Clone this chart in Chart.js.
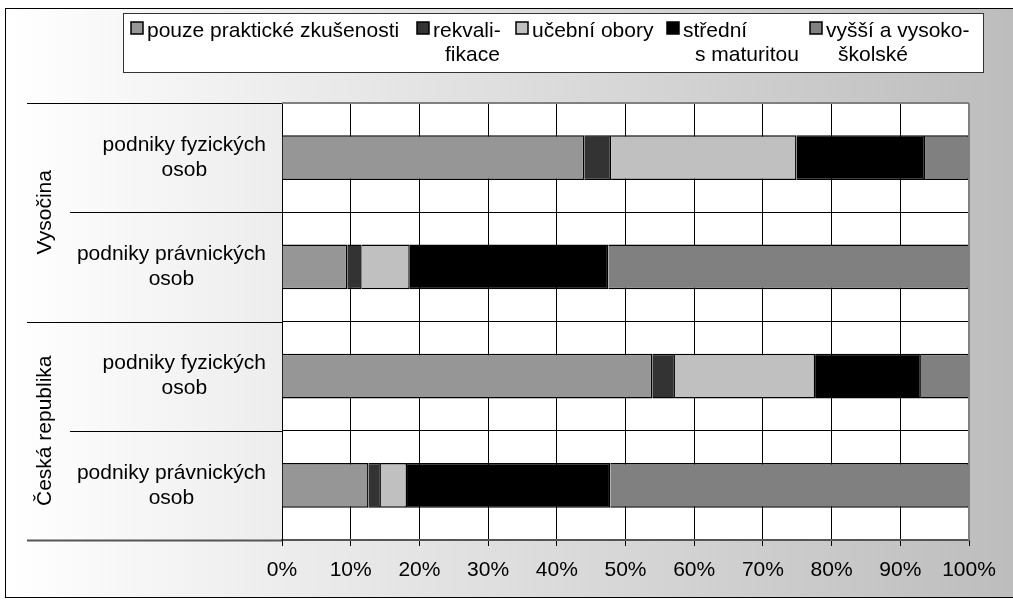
<!DOCTYPE html>
<html>
<head>
<meta charset="utf-8">
<script src="https://cdn.jsdelivr.net/npm/chart.js@4/dist/chart.umd.min.js"></script>
<style>
  html, body { margin: 0; padding: 0; background: #fff; }
  #wrap { position: relative; width: 1013px; height: 600px; overflow: hidden; background: #fff; }
  #bg { position: absolute; left: 5px; top: 8px; width: 1020px; height: 588px; border: 1px solid #000;
        background: linear-gradient(to right, #ffffff 0%, #e4e4e4 40%, #bcbcbc 100%); }
  #c { position: absolute; left: 0; top: 0; }
</style>
</head>
<body>
<div id="wrap">
  <div id="bg"></div>
  <canvas id="c" width="1013" height="600"></canvas>
</div>
<script>
// ---- data ----
const groupLabels = ['Vysočina', 'Česká republika'];
const categoryLabels = [
  ['podniky fyzických', 'osob'],
  ['podniky právnických', 'osob'],
  ['podniky fyzických', 'osob'],
  ['podniky právnických', 'osob']
];
const seriesNames = ['pouze praktické zkušenosti', 'rekvalifikace', 'učební obory', 'střední s maturitou', 'vyšší a vysokoškolské'];
const legendLines = [
  ['pouze praktické zkušenosti'],
  ['rekvali-', 'fikace'],
  ['učební obory'],
  ['střední', 's maturitou'],
  ['vyšší a vysoko-', 'školské']
];
const praktickeValues = [44.0, 9.5, 53.9, 12.6];
const rekvalifikaceValues = [3.9, 2.1, 3.3, 1.8];
const ucebniValues = [27.0, 7.0, 20.4, 3.8];
const stredniValues = [18.7, 28.9, 15.4, 29.6];
const vyssiValues = [6.4, 52.5, 7.0, 52.2];
const xTickLabels = ['0%', '10%', '20%', '30%', '40%', '50%', '60%', '70%', '80%', '90%', '100%'];

// ---- styles ----
const colors = ['#969696', '#333333', '#c0c0c0', '#000000', '#808080'];
const FONT = '"Liberation Sans", Arial, sans-serif';
const FS = 21;
const legendX = [131, 417, 516, 667, 810];
const secondLineIndent = 12;

const seriesValues = [praktickeValues, rekvalifikaceValues, ucebniValues, stredniValues, vyssiValues];

const decor = {
  id: 'decor',
  beforeDraw(chart) {
    const { ctx, chartArea: a } = chart;
    ctx.save();
    ctx.fillStyle = '#ffffff';
    ctx.fillRect(a.left, a.top, a.right - a.left, a.bottom - a.top);
    ctx.restore();
  },
  afterDraw(chart) {
    const { ctx, chartArea: a } = chart;
    const ys = chart.scales.y;
    ctx.save();
    // plot border (top + right shadow)
    ctx.strokeStyle = '#808080';
    ctx.lineWidth = 2;
    ctx.beginPath();
    ctx.moveTo(a.left, a.top); ctx.lineTo(a.right, a.top);
    ctx.moveTo(a.right, a.top); ctx.lineTo(a.right, a.bottom);
    ctx.stroke();

    // category separators
    const n = categoryLabels.length;
    const step = (a.bottom - a.top) / n;
    for (let i = 0; i <= n; i++) {
      const yy = (i === n)
        ? Math.round(ys.getPixelForValue(n - 1) + step / 2) + 0.5
        : Math.round(ys.getPixelForValue(i) - step / 2) + 0.5;
      const x0 = (i % 2 === 0) ? 27 : 70;
      ctx.strokeStyle = i === n ? '#555' : '#000';
      ctx.lineWidth = i === n ? 2 : 1;
      ctx.beginPath();
      ctx.moveTo(x0, yy); ctx.lineTo(a.left, yy);
      ctx.stroke();
    }

    // category labels
    ctx.fillStyle = '#000';
    ctx.font = FS + 'px ' + FONT;
    ctx.textBaseline = 'middle';
    ctx.textAlign = 'center';
    categoryLabels.forEach((lines, i) => {
      const yc = ys.getPixelForValue(i);
      const w = Math.max(...lines.map(l => ctx.measureText(l).width));
      const cx = 266 - w / 2;
      lines.forEach((l, k) => {
        ctx.fillText(l, cx, yc - 12.5 + k * 25);
      });
    });

    // group labels
    groupLabels.forEach((g, gi) => {
      const yc = (ys.getPixelForValue(gi * 2) + ys.getPixelForValue(gi * 2 + 1)) / 2;
      ctx.save();
      ctx.translate(45, yc);
      ctx.rotate(-Math.PI / 2);
      ctx.textAlign = 'center';
      ctx.textBaseline = 'middle';
      ctx.fillText(g, 0, 0);
      ctx.restore();
    });

    // legend
    ctx.fillStyle = '#ffffff';
    ctx.fillRect(123.5, 13.5, 860, 59);
    ctx.strokeStyle = '#333';
    ctx.lineWidth = 1;
    ctx.strokeRect(123.5, 13.5, 860, 59);
    chart.data.datasets.forEach((ds, i) => {
      const x = legendX[i];
      ctx.fillStyle = ds.backgroundColor;
      ctx.fillRect(x, 22, 12, 12);
      ctx.strokeStyle = '#000';
      ctx.lineWidth = 1.5;
      ctx.strokeRect(x, 22, 12, 12);
      ctx.fillStyle = '#000';
      ctx.textAlign = 'left';
      ctx.textBaseline = 'middle';
      legendLines[i].forEach((l, k) => {
        ctx.fillText(l, x + 16 + (k > 0 ? secondLineIndent : 0), 31 + k * 24);
      });
    });
    ctx.restore();
  }
};

const datasets = seriesNames.map((name, i) => ({
  label: name,
  data: seriesValues[i],
  backgroundColor: colors[i],
  borderColor: '#000',
  borderWidth: 1.5,
  barPercentage: 0.41,
  categoryPercentage: 1.0
}));

new Chart(document.getElementById('c'), {
  type: 'bar',
  data: { labels: categoryLabels.map(l => l.join(' ')), datasets },
  options: {
    responsive: false,
    animation: false,
    indexAxis: 'y',
    layout: { padding: { top: 103, right: 44, bottom: 0, left: 0 } },
    plugins: { legend: { display: false }, tooltip: { enabled: false } },
    scales: {
      x: {
        stacked: true,
        min: 0, max: 100,
        afterFit(s) { s.height = 60; },
        afterBuildTicks(s) { s.ticks = xTickLabels.map((t, i) => ({ value: i * 10 })); },
        ticks: {
          callback: (v, i) => xTickLabels[i],
          color: '#000',
          font: { family: FONT, size: FS },
          padding: 12,
          maxRotation: 0
        },
        grid: { color: '#000', lineWidth: 1, tickLength: 6, drawTicks: true },
        border: { color: '#555', width: 2 }
      },
      y: {
        stacked: true,
        afterFit(s) { s.width = 282; },
        ticks: { display: false },
        grid: { color: '#000', lineWidth: 1, drawTicks: false, offset: true },
        border: { color: '#000', width: 1 }
      }
    }
  },
  plugins: [decor]
});
</script>
</body>
</html>
